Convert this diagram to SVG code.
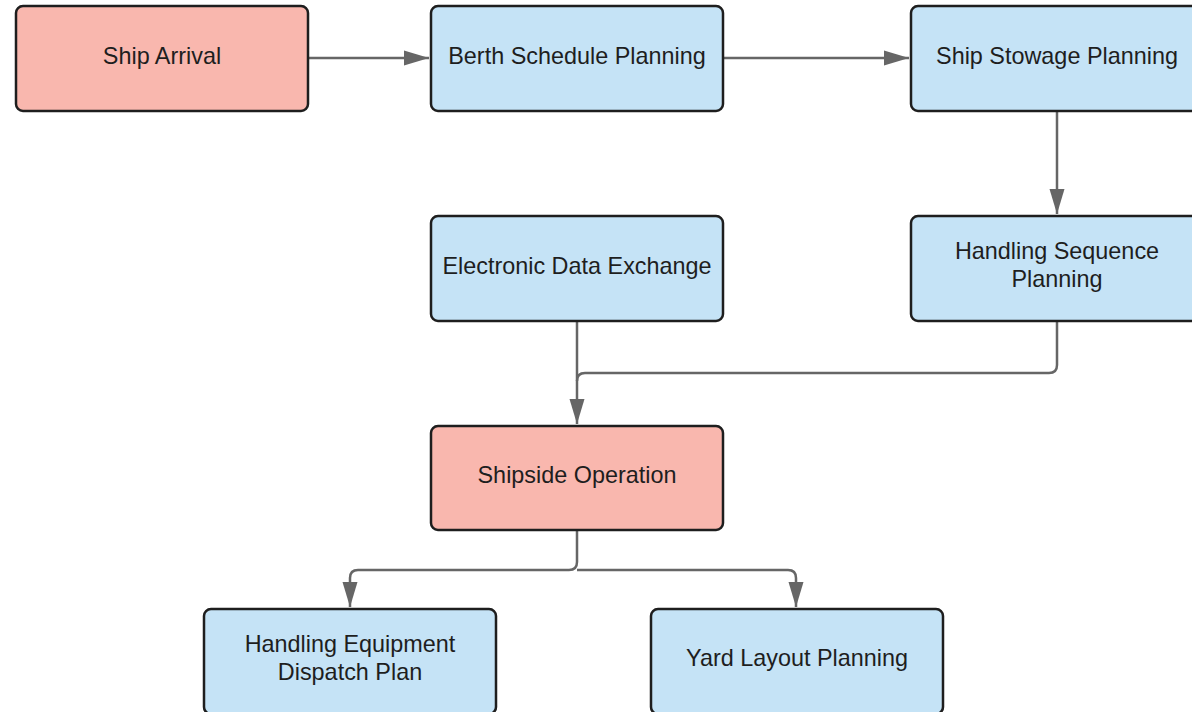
<svg xmlns="http://www.w3.org/2000/svg" width="1192" height="712" viewBox="0 0 1192 712">
  <style>
    .box { stroke: #1e1e1e; stroke-width: 2.5; }
    .red { fill: #f9b7ae; }
    .blue { fill: #c5e3f6; }
    .label { font-family: "Liberation Sans", Arial, sans-serif; font-size: 23.4px; fill: #1e1e1e; text-anchor: middle; dominant-baseline: central; }
    .link { fill: none; stroke: #666666; stroke-width: 2.5; }
  </style>
  <defs>
    <marker id="arrow" markerWidth="25" markerHeight="16" refX="25" refY="8" orient="auto" markerUnits="userSpaceOnUse">
      <path d="M0,0.5 L25,8 L0,15.5 Z" fill="#666666"/>
    </marker>
  </defs>
  <rect width="1192" height="712" fill="#ffffff"/>

  <g id="connectors">
    <path class="link" d="M308,58 H429" marker-end="url(#arrow)"/>
    <path class="link" d="M723,58 H909" marker-end="url(#arrow)"/>
    <path class="link" d="M1057,111 V214" marker-end="url(#arrow)"/>
    <path class="link" d="M577,321 V424" marker-end="url(#arrow)"/>
    <path class="link" d="M1057,321 V365 Q1057,373 1049,373 H585 Q577,373 577,381"/>
    <path class="link" d="M577,530 V562 Q577,570 569,570 H358 Q350,570 350,578 V607" marker-end="url(#arrow)"/>
    <path class="link" d="M577,570 H788 Q796,570 796,578 V607" marker-end="url(#arrow)"/>
  </g>

  <g id="ship-arrival">
    <rect class="box red" x="16" y="6" width="292" height="105" rx="7"/>
    <text class="label" x="162" y="56">Ship Arrival</text>
  </g>
  <g id="berth-schedule-planning">
    <rect class="box blue" x="431" y="6" width="292" height="105" rx="7"/>
    <text class="label" x="577" y="56">Berth Schedule Planning</text>
  </g>
  <g id="ship-stowage-planning">
    <rect class="box blue" x="911" y="6" width="292" height="105" rx="7"/>
    <text class="label" x="1057" y="56">Ship Stowage Planning</text>
  </g>
  <g id="electronic-data-exchange">
    <rect class="box blue" x="431" y="216" width="292" height="105" rx="7"/>
    <text class="label" x="577" y="266">Electronic Data Exchange</text>
  </g>
  <g id="handling-sequence-planning">
    <rect class="box blue" x="911" y="216" width="292" height="105" rx="7"/>
    <text class="label" x="1057" y="251">Handling Sequence</text>
    <text class="label" x="1057" y="279">Planning</text>
  </g>
  <g id="shipside-operation">
    <rect class="box red" x="431" y="426" width="292" height="104" rx="7"/>
    <text class="label" x="577" y="475">Shipside Operation</text>
  </g>
  <g id="handling-equipment-dispatch-plan">
    <rect class="box blue" x="204" y="609" width="292" height="105" rx="7"/>
    <text class="label" x="350" y="644">Handling Equipment</text>
    <text class="label" x="350" y="672">Dispatch Plan</text>
  </g>
  <g id="yard-layout-planning">
    <rect class="box blue" x="651" y="609" width="292" height="105" rx="7"/>
    <text class="label" x="797" y="658">Yard Layout Planning</text>
  </g>
</svg>
